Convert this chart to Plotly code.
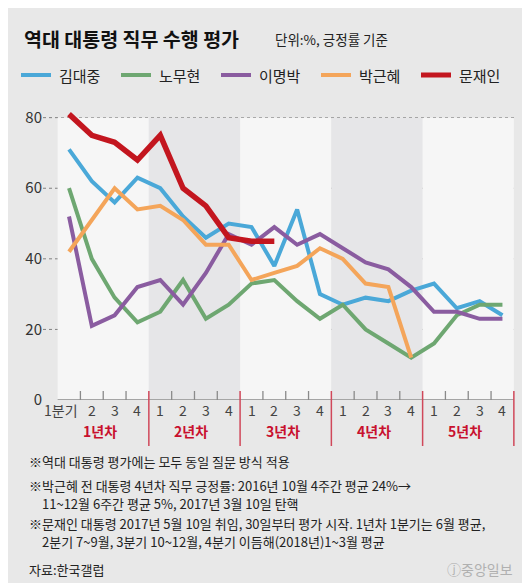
import plotly.graph_objects as go

# ---------------- data ----------------
quarter_labels = ["1분기", "2", "3", "4"] + ["1", "2", "3", "4"] * 4
year_labels = ["1년차", "2년차", "3년차", "4년차", "5년차"]
names = ["김대중", "노무현", "이명박", "박근혜", "문재인"]
kim_dj = [71, 62, 56, 63, 60, 52, 46, 50, 49, 38, 54, 30, 27, 29, 28, 31, 33, 26, 28, 24]
roh_mh = [60, 40, 29, 22, 25, 34, 23, 27, 33, 34, 28, 23, 27, 20, 16, 12, 16, 24, 27, 27]
lee_mb = [52, 21, 24, 32, 34, 27, 36, 47, 44, 49, 44, 47, 43, 39, 37, 32, 25, 25, 23, 23]
park_gh = [42, 51, 60, 54, 55, 51, 44, 44, 34, 36, 38, 43, 40, 33, 32, 12]
moon_ji = [81, 75, 73, 68, 75, 60, 55, 46, 45, 45]
y_ticks = [0, 20, 40, 60, 80]

series = [kim_dj, roh_mh, lee_mb, park_gh, moon_ji]
colors = ["#4aa8d8", "#6ea771", "#8a5ca0", "#f4a55a", "#c3161f"]
widths = [4, 4, 4, 4, 5.5]

FONT = "Noto Sans CJK KR"
W, H = 530, 583
L, R, T, B = 35, 23, 92, 191
PW, PH = W - L - R, H - T - B
BOTTOM = H - B


def px(x):
    return (x - L) / PW


def py(y):
    return (BOTTOM - y) / PH


fig = go.Figure()

for name, vals, c, w in zip(names, series, colors, widths):
    fig.add_trace(go.Scatter(
        x=list(range(len(vals))), y=vals, mode="lines", name=name,
        line=dict(color=c, width=w), hoverinfo="skip", showlegend=False))

shapes = []
# alternating year bands
for k in range(5):
    shapes.append(dict(type="rect", xref="x", yref="y", x0=4 * k - 0.5, x1=4 * k + 3.5,
                       y0=0, y1=80, fillcolor="#f6f6f6" if k % 2 == 0 else "#e6e6e8",
                       line=dict(width=0), layer="below"))
# dotted gridlines
for v in y_ticks[1:]:
    shapes.append(dict(type="line", xref="paper", yref="y", x0=0, x1=1, y0=v, y1=v,
                       line=dict(color="#808080", width=1, dash="dot"), layer="below"))
# base axis line
shapes.append(dict(type="line", xref="x", yref="y", x0=-0.5, x1=19.5, y0=0, y1=0,
                   line=dict(color="#a5a5a5", width=2), layer="below"))
# quarter ticks & year separators
for i in range(20):
    xpos = i + 0.5
    if i % 4 == 3:
        shapes.append(dict(type="line", xref="x", yref="paper", x0=xpos, x1=xpos,
                           y0=py(383), y1=py(438), line=dict(color="#d0485a", width=1.5)))
    else:
        shapes.append(dict(type="line", xref="x", yref="paper", x0=xpos, x1=xpos,
                           y0=py(383), y1=py(392), line=dict(color="#8a8a8a", width=1.3)))

annotations = []
# x quarter labels
for i, lab in enumerate(quarter_labels):
    annotations.append(dict(x=i, y=py(402), xref="x", yref="paper", text=lab,
                            showarrow=False, xanchor="center", yanchor="middle",
                            xshift=-8 if lab == "1분기" else 0,
                            font=dict(family=FONT, size=14, color="#444")))
# year labels
for k, lab in enumerate(year_labels):
    annotations.append(dict(x=4 * k + 1.5, y=py(423), xref="x", yref="paper",
                            text="<b>" + lab + "</b>", showarrow=False, xanchor="center",
                            yanchor="middle", xshift=-3,
                            font=dict(family=FONT, size=14, color="#c8102e")))

# title
annotations.append(dict(x=px(14), y=py(31), xref="paper", yref="paper",
                        text="<b>역대 대통령 직무 수행 평가</b>", showarrow=False,
                        xanchor="left", yanchor="middle",
                        font=dict(family=FONT, size=19.5, color="#111")))
annotations.append(dict(x=px(265), y=py(31), xref="paper", yref="paper",
                        text="단위:%, 긍정률 기준", showarrow=False,
                        xanchor="left", yanchor="middle",
                        font=dict(family=FONT, size=13.5, color="#222")))
# legend
for k, (name, c) in enumerate(zip(names, colors)):
    x0 = 13 + 100 * k
    shapes.append(dict(type="line", xref="paper", yref="paper", x0=px(x0), x1=px(x0 + 30),
                       y0=py(67), y1=py(67),
                       line=dict(color=c, width=5 if k == 4 else 4)))
    annotations.append(dict(x=px(x0 + 36), y=py(67), xref="paper", yref="paper",
                            text=name, showarrow=False, xanchor="left", yanchor="middle",
                            font=dict(family=FONT, size=15, color="#222")))

# footnotes
notes = [
    (19, 453, "※역대 대통령 평가에는 모두 동일 질문 방식 적용"),
    (19, 477.5, "※박근혜 전 대통령 4년차 직무 긍정률: 2016년 10월 4주간 평균 24%→"),
    (32, 495.5, "11~12월 6주간 평균 5%, 2017년 3월 10일 탄핵"),
    (19, 515, "※문재인 대통령 2017년 5월 10일 취임, 30일부터 평가 시작. 1년차 1분기는 6월 평균,"),
    (32, 533, "2분기 7~9월, 3분기 10~12월, 4분기 이듬해(2018년)1~3월 평균"),
    (19, 561, "자료:한국갤럽"),
]
for x, y, t in notes:
    annotations.append(dict(x=px(x), y=py(y), xref="paper", yref="paper", text=t,
                            showarrow=False, xanchor="left", yanchor="middle",
                            font=dict(family=FONT, size=13, color="#222")))
annotations.append(dict(x=px(507), y=py(561), xref="paper", yref="paper",
                        text="ⓙ중앙일보", showarrow=False, xanchor="right", yanchor="middle",
                        font=dict(family=FONT, size=14, color="#b0b0b0")))

fig.update_layout(
    width=W, height=H,
    margin=dict(l=L, r=R, t=T, b=B, pad=0),
    paper_bgcolor="#e8e8e8", plot_bgcolor="#e8e8e8",
    showlegend=False,
    shapes=shapes, annotations=annotations,
    xaxis=dict(range=[-1.14, 19.55], showgrid=False, zeroline=False, showticklabels=False,
               ticks="", showline=False, fixedrange=True),
    yaxis=dict(range=[0, 85], tickvals=y_ticks, ticktext=[str(v) for v in y_ticks],
               showgrid=False, zeroline=False, showline=False, ticks="",
               tickfont=dict(family=FONT, size=15, color="#333"), fixedrange=True),
    font=dict(family=FONT),
)

fig.write_html("out.html")
